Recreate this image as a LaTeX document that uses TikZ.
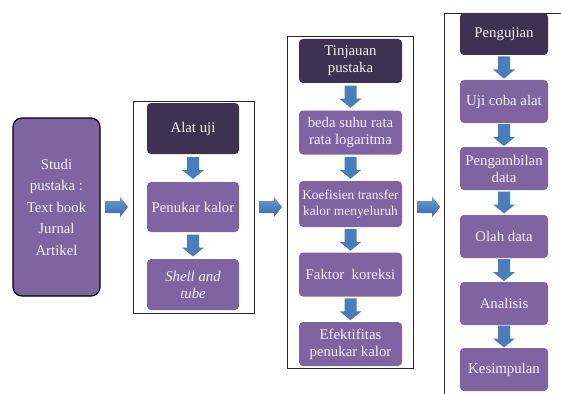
\documentclass[tikz,border=0pt]{standalone}
\usepackage{fontspec}
\setmainfont{Liberation Serif}
\usetikzlibrary{calc}
\definecolor{boxpurple}{HTML}{8064A2}
\definecolor{darkpurple}{HTML}{3F3151}
\definecolor{arrowblue}{HTML}{4A7EBB}
\definecolor{arrowlight}{HTML}{6A9CD8}
\definecolor{arrowdark}{HTML}{3A67A2}
\definecolor{boxtext}{HTML}{F4F0F8}
\tikzset{
  box/.style={fill=boxpurple, text=boxtext, rounded corners=4pt, align=center, inner sep=0pt,
    minimum height=44pt, font=\fontsize{14.8}{17}\selectfont},
  darkbox/.style={box, fill=darkpurple},
  panel/.style={draw=black!85, line width=0.8pt, inner sep=0pt},
  darr/.pic={\fill[arrowblue] (-6,-11) -- (6,-11) -- (6,2) -- (11,2) -- (0,11) -- (-11,2) -- (-6,2) -- cycle;},
  rarr/.pic={\shade[top color=arrowlight, bottom color=arrowdark] (-11.5,-6) -- (3.5,-6) -- (3.5,-10) -- (11.5,0) -- (3.5,10) -- (3.5,6) -- (-11.5,6) -- cycle;}
}

\begin{document}
\begin{tikzpicture}[x=1pt,y=-1pt]
\useasboundingbox (0,0) rectangle (561,393);
\clip (0,0) rectangle (561,393);

\node[box, draw=black, line width=1.2pt, rounded corners=9pt, minimum width=87pt, minimum height=178pt,
  font=\fontsize{14.8}{21.5}\selectfont] (studi) at (56.5,207) {Studi\\pustaka :\\Text book\\Jurnal\\Artikel};

\node[panel, minimum width=121pt, minimum height=212pt] (panelB) at (193.5,207) {};
\node[darkbox, minimum width=92pt, minimum height=51pt] (alat) at (193,128.5) {Alat uji};
\node[box, minimum width=92pt, minimum height=50pt] (penukar) at (193,207) {Penukar kalor};
\node[box, minimum width=92pt, minimum height=51pt] (shell) at (193,284.5) {\itshape Shell and\\\itshape tube};
\pic at ($(alat.south)!0.5!(penukar.north)$) {darr};
\pic at ($(penukar.south)!0.5!(shell.north)$) {darr};

\node[panel, minimum width=126pt, minimum height=332pt] (panelC) at (350,202) {};
\node[darkbox, minimum width=103pt] (tinjauan) at (350.5,61) {Tinjauan\\pustaka};
\node[box, minimum width=103pt] (beda) at (350.5,132.5) {beda suhu rata\\rata logaritma};
\node[box, minimum width=103pt, minimum height=46pt, font=\fontsize{13.4}{16.5}\selectfont] (koef) at (350.5,204) {Koefisien transfer\\kalor menyeluruh};
\node[box, minimum width=103pt] (faktor) at (350.5,274.5) {Faktor\ \ koreksi};
\node[box, minimum width=103pt] (efek) at (350.5,344) {Efektifitas\\penukar kalor};
\pic at ($(tinjauan.south)!0.5!(beda.north)$) {darr};
\pic at ($(beda.south)!0.5!(koef.north)$) {darr};
\pic at ($(koef.south)!0.5!(faktor.north)$) {darr};
\pic at ($(faktor.south)!0.5!(efek.north)$) {darr};

\node[panel, anchor=north west, minimum width=160pt, minimum height=420pt] (panelD) at (444,13) {};
\node[darkbox, minimum width=88pt, minimum height=42pt] (pengujian) at (504,34) {Pengujian};
\node[box, minimum width=88pt, minimum height=43pt] (uji) at (504,101.5) {Uji coba alat};
\node[box, minimum width=88pt, minimum height=43pt] (ambil) at (504,168.5) {Pengambilan\\data};
\node[box, minimum width=88pt, minimum height=43pt] (olah) at (504,236.5) {Olah data};
\node[box, minimum width=88pt, minimum height=43pt] (analisis) at (504,303.5) {Analisis};
\node[box, minimum width=88pt, minimum height=43pt] (simpul) at (504,369.5) {Kesimpulan};
\pic at ($(pengujian.south)!0.5!(uji.north)$) {darr};
\pic at ($(uji.south)!0.5!(ambil.north)$) {darr};
\pic at ($(ambil.south)!0.5!(olah.north)$) {darr};
\pic at ($(olah.south)!0.5!(analisis.north)$) {darr};
\pic at ($(analisis.south)!0.5!(simpul.north)$) {darr};

\pic at ($(studi.east)!0.5!(panelB.west)$) {rarr};
\pic at ($(panelB.east)!0.5!(panelC.west |- panelB.east)$) {rarr};
\pic at ($(panelC.east |- studi.east)!0.5!(panelD.west |- studi.east)$) {rarr};
\end{tikzpicture}
\end{document}
